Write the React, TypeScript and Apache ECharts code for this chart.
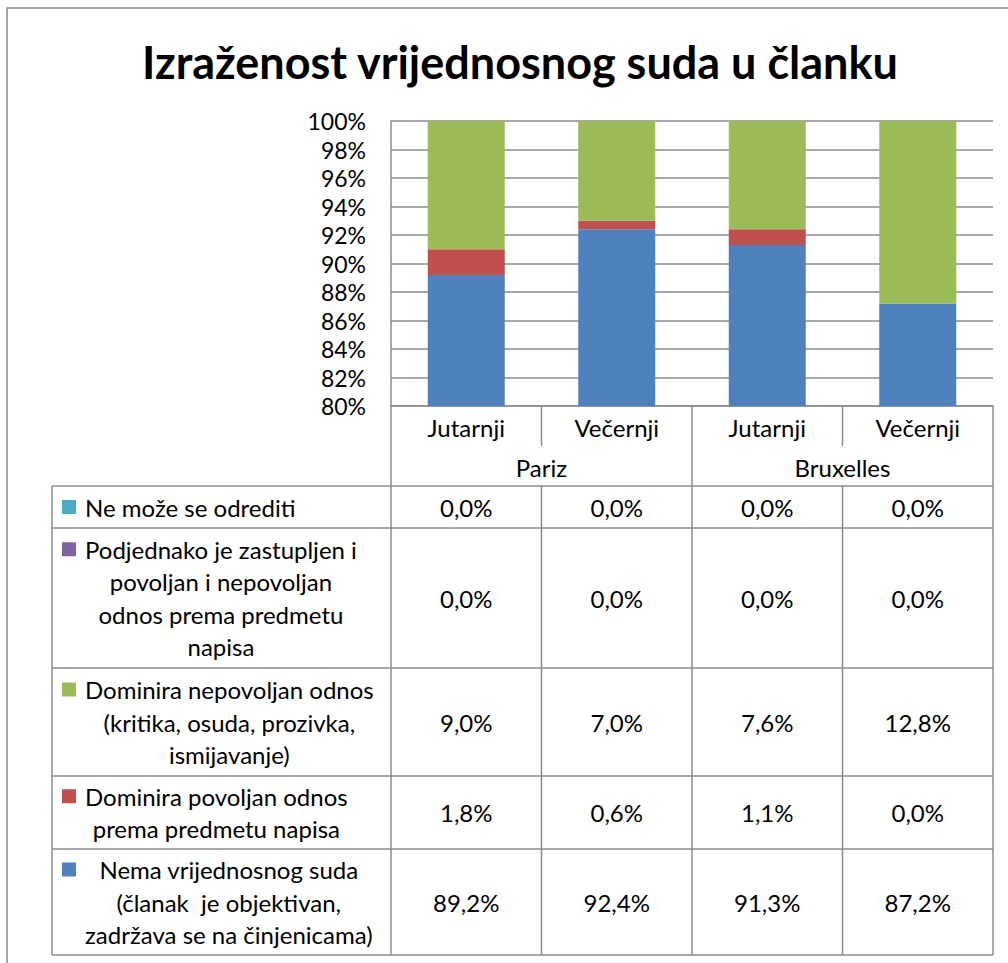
import React, { useEffect, useRef } from "react";
import * as echarts from "echarts";

const titleText = "Izraženost vrijednosnog suda u članku";
const categories = ["Jutarnji", "Večernji", "Jutarnji", "Večernji"];
const groups = ["Pariz", "Bruxelles"];

const neMozeValues = [0.0, 0.0, 0.0, 0.0];
const podjednakoValues = [0.0, 0.0, 0.0, 0.0];
const nepovoljanValues = [9.0, 7.0, 7.6, 12.8];
const povoljanValues = [1.8, 0.6, 1.1, 0.0];
const nemaValues = [89.2, 92.4, 91.3, 87.2];

const neMozeLabel = ["Ne može se odrediti"];
const podjednakoLabel = ["Podjednako je zastupljen i", "povoljan i nepovoljan", "odnos prema predmetu", "napisa"];
const nepovoljanLabel = ["Dominira nepovoljan odnos", "(kritika, osuda, prozivka,", "ismijavanje)"];
const povoljanLabel = ["Dominira povoljan odnos", "prema predmetu napisa"];
const nemaLabel = ["Nema vrijednosnog suda", "(članak  je objektivan,", "zadržava se na činjenicama)"];

const yMin = 80;
const yMax = 100;
const yInterval = 2;

const COLORS = {
  teal: "#4BACC6",
  purple: "#8064A2",
  green: "#9BBB59",
  red: "#C0504D",
  blue: "#4F81BD",
};

const FONT = "Lato";
const FS = 24;
const FS_Y = 23;
const LINE = "#8c8c8c";

function fmt(v: number) {
  return v.toFixed(1).replace(".", ",") + "%";
}

export default function App() {
  const ref = useRef<HTMLDivElement>(null);

  useEffect(() => {
    if (!ref.current) return;
    const chart = echarts.init(ref.current, null, { renderer: "svg" });

    const gridLeft = 391;
    const gridTop = 121;
    const gridRight = 993;
    const gridBottom = 406;
    const colW = (gridRight - gridLeft) / categories.length;
    const tableLeft = 52;

    const rows = [
      { lines: neMozeLabel, values: neMozeValues, color: COLORS.teal, h: 42 },
      { lines: podjednakoLabel, values: podjednakoValues, color: COLORS.purple, h: 140 },
      { lines: nepovoljanLabel, values: nepovoljanValues, color: COLORS.green, h: 108 },
      { lines: povoljanLabel, values: povoljanValues, color: COLORS.red, h: 73 },
      { lines: nemaLabel, values: nemaValues, color: COLORS.blue, h: 106 },
    ];

    const canvas = document.createElement("canvas");
    const ctx = canvas.getContext("2d")!;
    ctx.font = `${FS}px ${FONT}`;

    const graphics: any[] = [];
    const lineStyle = { stroke: LINE, lineWidth: 1.5 };
    const hline = (x1: number, x2: number, y: number) =>
      graphics.push({ type: "line", shape: { x1, y1: y, x2, y2: y }, style: lineStyle, silent: true });
    const vline = (x: number, y1: number, y2: number) =>
      graphics.push({ type: "line", shape: { x1: x, y1, x2: x, y2 }, style: lineStyle, silent: true });

    // outer frame
    graphics.push({
      type: "rect",
      shape: { x: 7, y: 8, width: 1200, height: 1200 },
      style: { fill: "none", stroke: "#8a8a8a", lineWidth: 1.5 },
      silent: true,
    });

    const catRowBottom = 446;
    const groupRowBottom = 486;
    vline(gridLeft, gridBottom, groupRowBottom);
    vline(gridRight, gridBottom, groupRowBottom);
    for (let i = 1; i < categories.length; i++) {
      const x = gridLeft + i * colW;
      if (i % 2 === 0) vline(x, gridBottom, groupRowBottom);
      else vline(x, gridBottom, catRowBottom);
    }

    let y = groupRowBottom;
    hline(tableLeft, gridRight, y);
    const tableTop = y;
    rows.forEach((r) => {
      const top = y;
      const bottom = y + r.h;
      const mid = (top + bottom) / 2;
      const lh = 32.5;
      const n = r.lines.length;
      const firstCenter = mid - ((n - 1) * lh) / 2;
      graphics.push({
        type: "rect",
        shape: { x: 62, y: firstCenter - 7, width: 14, height: 14 },
        style: { fill: r.color },
        silent: true,
      });
      const maxW = Math.max(...r.lines.map((l) => ctx.measureText(l).width));
      const cx = 85 + maxW / 2;
      r.lines.forEach((l, k) => {
        graphics.push({
          type: "text",
          x: cx,
          y: firstCenter + k * lh,
          style: {
            text: l,
            fontFamily: FONT,
            fontSize: FS,
            fill: "#000",
            align: "center",
            verticalAlign: "middle",
          },
          silent: true,
        });
      });
      r.values.forEach((v, i) => {
        graphics.push({
          type: "text",
          x: gridLeft + (i + 0.5) * colW,
          y: mid,
          style: {
            text: fmt(v),
            fontFamily: FONT,
            fontSize: FS,
            fill: "#000",
            align: "center",
            verticalAlign: "middle",
          },
          silent: true,
        });
      });
      y = bottom;
      hline(tableLeft, gridRight, y);
    });
    vline(tableLeft, tableTop, y);
    for (let i = 0; i <= categories.length; i++) {
      vline(gridLeft + i * colW, tableTop, y);
    }

    const mk = (name: string, data: number[], color: string) => ({
      name,
      type: "bar",
      stack: "total",
      data,
      barWidth: 77,
      itemStyle: { color },
      clip: true,
    });

    chart.setOption({
      animation: false,
      backgroundColor: "#fff",
      title: {
        text: titleText,
        left: 515,
        top: 34,
        textAlign: "center",
        textStyle: { fontFamily: FONT, fontSize: 45, fontWeight: "bold", color: "#000" },
      },
      grid: {
        left: gridLeft,
        top: gridTop,
        width: gridRight - gridLeft,
        height: gridBottom - gridTop,
        containLabel: false,
      },
      xAxis: [
        {
          type: "category",
          data: categories,
          axisLine: { show: true, lineStyle: { color: LINE, width: 1.5 } },
          axisTick: { show: false },
          axisLabel: { fontFamily: FONT, fontSize: FS, color: "#000", margin: 9, interval: 0 },
        },
        {
          type: "category",
          data: groups,
          position: "bottom",
          offset: 40,
          axisLine: { show: false },
          axisTick: { show: false },
          axisLabel: { fontFamily: FONT, fontSize: FS, color: "#000", margin: 9, interval: 0 },
        },
      ],
      yAxis: {
        type: "value",
        min: yMin,
        max: yMax,
        interval: yInterval,
        axisLine: { show: true, lineStyle: { color: LINE, width: 1.5 } },
        axisTick: { show: false },
        splitLine: { show: true, lineStyle: { color: LINE, width: 1.5 } },
        axisLabel: {
          fontFamily: FONT,
          fontSize: FS_Y,
          color: "#000",
          margin: 25,
          formatter: "{value}%",
        },
      },
      series: [
        mk(nemaLabel.join(" "), nemaValues, COLORS.blue),
        mk(povoljanLabel.join(" "), povoljanValues, COLORS.red),
        mk(nepovoljanLabel.join(" "), nepovoljanValues, COLORS.green),
        mk(podjednakoLabel.join(" "), podjednakoValues, COLORS.purple),
        mk(neMozeLabel.join(" "), neMozeValues, COLORS.teal),
      ],
      graphic: graphics,
    });

    return () => chart.dispose();
  }, []);

  return (
    <div
      ref={ref}
      style={{ position: "absolute", left: 0, top: 0, width: 1008, height: 963, background: "#fff" }}
    />
  );
}
